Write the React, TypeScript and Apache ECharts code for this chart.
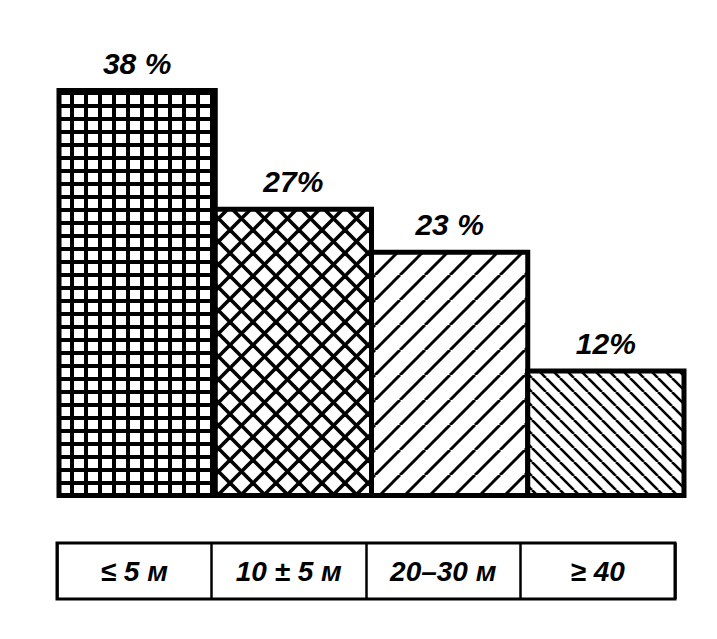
import React, { useEffect, useRef } from 'react';
import * as echarts from 'echarts';

const categories = ['≤ 5 м', '10 ± 5 м', '20–30 м', '≥ 40'];
const shares = [38, 27, 23, 12];
const shareLabels = ['38 %', '27%', '23 %', '12%'];
const hatchKinds = ['grid', 'cross', 'slash', 'backslash'];

function makeTile(kind: string) {
  const c = document.createElement('canvas');
  let w = 14, h = 14;
  if (kind === 'grid') { w = 14; h = 13; }
  if (kind === 'cross') { w = 23; h = 23; }
  if (kind === 'slash') { w = 25; h = 25; }
  if (kind === 'backslash') { w = 14; h = 14; }
  c.width = w; c.height = h;
  const ctx = c.getContext('2d')!;
  ctx.fillStyle = '#fff';
  ctx.fillRect(0, 0, w, h);
  ctx.fillStyle = '#000';
  ctx.strokeStyle = '#000';
  if (kind === 'grid') {
    ctx.fillRect(0, 0, 4, h);
    ctx.fillRect(0, 0, w, 4);
  } else {
    const p = w;
    const drawSlash = kind === 'slash' || kind === 'cross';
    const drawBack = kind === 'backslash' || kind === 'cross';
    ctx.lineWidth = kind === 'cross' ? 3.6 : kind === 'slash' ? 3 : 2.6;
    for (let k = -1; k <= 1; k++) {
      if (drawBack) {
        ctx.beginPath();
        ctx.moveTo(k * p, 0);
        ctx.lineTo(k * p + p, p);
        ctx.stroke();
      }
      if (drawSlash) {
        ctx.beginPath();
        ctx.moveTo(k * p, p);
        ctx.lineTo(k * p + p, 0);
        ctx.stroke();
      }
    }
  }
  return { image: c as any, repeat: 'repeat' as const, imageWidth: w, imageHeight: h };
}

export default function App() {
  const ref = useRef<HTMLDivElement>(null);
  useEffect(() => {
    if (!ref.current) return;
    const chart = echarts.init(ref.current, null, { renderer: 'svg' });
    const fontFamily = "'Liberation Sans', Arial, sans-serif";
    const borderW = 5;
    const gridLeft = 59;
    const gridRight = 33;
    const band = (717 - gridLeft - gridRight) / categories.length;
    chart.setOption({
      animation: false,
      backgroundColor: '#fff',
      grid: [
        { left: gridLeft, right: gridRight, top: 88, height: 410 },
        {
          left: 57, right: 42, top: 543, height: 56, show: true,
          borderColor: '#000', borderWidth: 3, backgroundColor: 'transparent',
        },
      ],
      xAxis: [
        {
          type: 'category', gridIndex: 0, data: categories,
          axisLine: { show: false }, axisTick: { show: false },
          axisLabel: { show: false }, splitLine: { show: false },
        },
        {
          type: 'category', gridIndex: 1, data: categories,
          axisLine: { show: false }, axisTick: { show: false },
          splitLine: { show: true, interval: 0, lineStyle: { color: '#000', width: 2.5 } },
          axisLabel: {
            interval: 0, margin: -28, verticalAlign: 'middle', color: '#000',
            fontSize: 28, fontStyle: 'italic', fontWeight: 'bold', fontFamily,
          },
        },
      ],
      yAxis: [
        { type: 'value', gridIndex: 0, min: 0, max: 38, show: false },
        { type: 'value', gridIndex: 1, show: false },
      ],
      series: [
        {
          type: 'bar',
          xAxisIndex: 0,
          yAxisIndex: 0,
          barWidth: band + borderW,
          data: shares.map((v, i) => ({
            value: v,
            itemStyle: {
              color: makeTile(hatchKinds[i]),
              borderColor: '#000',
              borderWidth: borderW,
            },
          })),
          label: {
            show: true,
            position: 'top',
            distance: 10,
            formatter: (p: any) => shareLabels[p.dataIndex],
            color: '#000',
            fontSize: 30,
            fontStyle: 'italic',
            fontWeight: 'bold',
            fontFamily,
          },
        },
      ],
    });
    return () => chart.dispose();
  }, []);
  return (
    <div
      ref={ref}
      style={{ position: 'absolute', left: 0, top: 0, width: 717, height: 639 }}
    />
  );
}
